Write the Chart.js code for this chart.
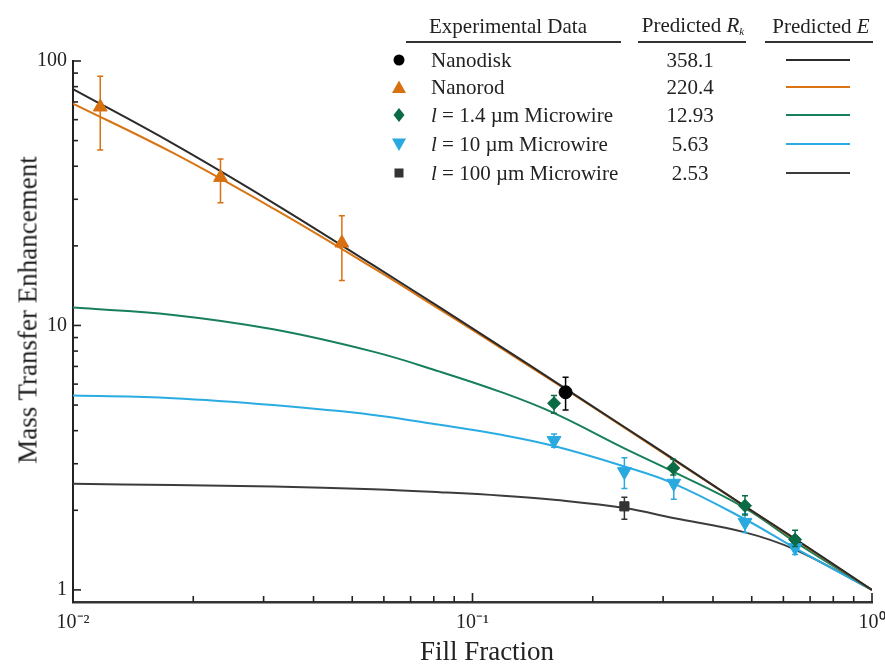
<!DOCTYPE html>
<html>
<head>
<meta charset="utf-8">
<script src="https://cdn.jsdelivr.net/npm/chart.js@4.4.1/dist/chart.umd.min.js"></script>
<style>
  html, body { margin: 0; padding: 0; background: #fff; }
  #wrap { position: relative; width: 885px; height: 664px; font-family: "Liberation Serif", "Times New Roman", serif; color: #222; }
  #chart { position: absolute; left: 0; top: 0; }
  .txt { position: absolute; white-space: nowrap; line-height: 1; transform: translate(-50%, -50%); }
  .left { transform: translate(0, -50%); }
  .rule { position: absolute; height: 1.5px; background: #333; }
  .sample { position: absolute; height: 2px; width: 64px; left: 786px; }
  .mark { position: absolute; width: 16px; height: 16px; left: 391px; }
  sub { font-size: 11px; vertical-align: -3px; }
</style>
</head>
<body>
<div id="wrap">
  <canvas id="chart" width="885" height="664"></canvas>
</div>
<script>
// fill fraction at which the predicted curves were read
const lineFill = [0.01, 0.0178, 0.0317, 0.0564, 0.0828, 0.119, 0.16, 0.24, 0.318, 0.481, 0.642, 1];
const nanodiskLine = [78.3, 48.7, 29.1, 16.9, 11.7, 8.23, 6.16, 4.13, 3.13, 2.07, 1.56, 1];
const nanorodLine = [69.0, 44.9, 27.7, 16.5, 11.5, 8.13, 6.11, 4.11, 3.11, 2.07, 1.55, 1];
const wire14Line = [11.68, 10.96, 9.67, 7.96, 6.69, 5.57, 4.66, 3.43, 2.80, 2.04, 1.52, 1];
const wire10Line = [5.43, 5.31, 5.00, 4.59, 4.21, 3.85, 3.50, 2.93, 2.53, 1.85, 1.44, 1];
const wire100Line = [2.52, 2.49, 2.46, 2.40, 2.34, 2.27, 2.19, 2.04, 1.87, 1.65, 1.42, 1];

// experimental data (value, upper and lower end of error bar)
const nanodiskX = [0.171];
const nanodiskY = [5.59];
const nanodiskHi = [6.37];
const nanodiskLo = [4.79];

const nanorodX = [0.0117, 0.0234, 0.0471];
const nanorodY = [67, 36.3, 20.5];
const nanorodHi = [87.5, 42.6, 26.0];
const nanorodLo = [46.1, 29.1, 14.8];

const wire14X = [0.160, 0.318, 0.481, 0.642];
const wire14Y = [5.08, 2.89, 2.08, 1.55];
const wire14Hi = [5.43, 3.12, 2.27, 1.68];
const wire14Lo = [4.66, 2.72, 1.92, 1.46];

const wire10X = [0.160, 0.240, 0.319, 0.481, 0.642];
const wire10Y = [3.67, 2.80, 2.53, 1.80, 1.445];
const wire10Hi = [3.89, 3.16, 2.86, 1.94, 1.55];
const wire10Lo = [3.46, 2.42, 2.20, 1.65, 1.36];

const wire100X = [0.240];
const wire100Y = [2.07];
const wire100Hi = [2.24];
const wire100Lo = [1.85];

const seriesNames = ['Nanodisk', 'Nanorod', '<i>l</i> = 1.4 µm Microwire', '<i>l</i> = 10 µm Microwire', '<i>l</i> = 100 µm Microwire'];
const predictedRk = ['358.1', '220.4', '12.93', '5.63', '2.53'];

const xTicks = [0.01, 0.1, 1];
const xTickLabels = ['10⁻²', '10⁻¹', '10⁰'];
const yTicks = [1, 10, 100];
const yTickLabels = ['1', '10', '100'];

const lineColors = ['#2b2b2b', '#d97414', '#17805a', '#2aace2', '#3c3c3c'];
const markColors = ['#000000', '#d87010', '#0b6b45', '#29a9e0', '#333333'];

function pts(xs, ys) {
  return xs.map((x, i) => ({ x: x, y: ys[i] }));
}

function curve(ys, color) {
  return {
    data: pts(lineFill, ys),
    borderColor: color,
    borderWidth: 2,
    pointRadius: 0,
    tension: 0.4,
    fill: false,
    order: 2
  };
}

function marks(xs, ys, hi, lo, color, style, radius, rotation) {
  return {
    data: pts(xs, ys),
    showLine: false,
    pointStyle: style,
    pointRadius: radius,
    pointRotation: rotation || 0,
    pointBackgroundColor: color,
    pointBorderColor: color,
    pointBorderWidth: 1,
    errHi: hi,
    errLo: lo,
    errColor: color,
    order: 1
  };
}

// error bars go under the markers of their own dataset
const errorBars = {
  id: 'errorBars',
  beforeDatasetDraw(chart, args) {
    const ds = chart.data.datasets[args.index];
    if (!ds.errHi) return;
    const xs = chart.scales.x, ys = chart.scales.y, ctx = chart.ctx;
    ctx.save();
    ctx.strokeStyle = ds.errColor;
    ctx.lineWidth = 1.5;
    ds.data.forEach((p, i) => {
      const px = xs.getPixelForValue(p.x);
      const top = ys.getPixelForValue(ds.errHi[i]);
      const bot = ys.getPixelForValue(ds.errLo[i]);
      ctx.beginPath();
      ctx.moveTo(px, top); ctx.lineTo(px, bot);
      ctx.moveTo(px - 3, top); ctx.lineTo(px + 3, top);
      ctx.moveTo(px - 3, bot); ctx.lineTo(px + 3, bot);
      ctx.stroke();
    });
    ctx.restore();
  }
};

// inward log ticks on both axes
const logTicks = {
  id: 'logTicks',
  afterDraw(chart) {
    const { ctx, chartArea, scales } = chart;
    ctx.save();
    ctx.strokeStyle = '#222';
    ctx.lineWidth = 1.6;
    for (let e = -2; e <= 0; e++) {
      for (let m = 1; m <= 9; m++) {
        const v = m * Math.pow(10, e);
        if (v > scales.x.max * 1.0001) continue;
        const px = scales.x.getPixelForValue(v);
        const len = m === 1 ? 9 : 6;
        ctx.beginPath();
        ctx.moveTo(px, chartArea.bottom);
        ctx.lineTo(px, chartArea.bottom - len);
        ctx.stroke();
      }
    }
    for (let e = 0; e <= 2; e++) {
      for (let m = 1; m <= 9; m++) {
        const v = m * Math.pow(10, e);
        if (v > scales.y.max * 1.0001) continue;
        const py = scales.y.getPixelForValue(v);
        const len = m === 1 ? 8 : 5;
        ctx.beginPath();
        ctx.moveTo(chartArea.left, py);
        ctx.lineTo(chartArea.left + len, py);
        ctx.stroke();
      }
    }
    ctx.restore();
  }
};

const tickFont = { family: 'Liberation Serif', size: 20 };

new Chart(document.getElementById('chart'), {
  type: 'line',
  data: {
    datasets: [
      curve(nanodiskLine, lineColors[0]),
      curve(nanorodLine, lineColors[1]),
      curve(wire14Line, lineColors[2]),
      curve(wire10Line, lineColors[3]),
      curve(wire100Line, lineColors[4]),
      marks(nanorodX, nanorodY, nanorodHi, nanorodLo, markColors[1], 'triangle', 8),
      marks(wire14X, wire14Y, wire14Hi, wire14Lo, markColors[2], 'rectRot', 6.5),
      marks(wire10X, wire10Y, wire10Hi, wire10Lo, markColors[3], 'triangle', 8, 180),
      marks(wire100X, wire100Y, wire100Hi, wire100Lo, markColors[4], 'rect', 6.5),
      marks(nanodiskX, nanodiskY, nanodiskHi, nanodiskLo, markColors[0], 'circle', 6.5)
    ]
  },
  options: {
    responsive: false,
    animation: false,
    devicePixelRatio: 1,
    layout: { padding: { left: 0, top: 61, right: 13, bottom: 0 } },
    plugins: { legend: { display: false }, tooltip: { enabled: false } },
    scales: {
      x: {
        type: 'logarithmic',
        min: 0.01,
        max: 1,
        grid: { display: false, drawTicks: false },
        border: { display: true, color: '#333', width: 2.5 },
        ticks: {
          padding: 9,
          color: '#222',
          font: tickFont,
          maxRotation: 0,
          autoSkip: false,
          callback: (v, i) => xTickLabels[i]
        },
        afterBuildTicks: (scale) => { scale.ticks = xTicks.map(v => ({ value: v })); },
        afterFit: (scale) => { scale.height = 62; scale.paddingLeft = 0; scale.paddingRight = 0; }
      },
      y: {
        type: 'logarithmic',
        min: 0.9,
        max: 100,
        grid: { display: false, drawTicks: false },
        border: { display: true, color: '#222', width: 2 },
        ticks: {
          padding: 6,
          color: '#222',
          font: tickFont,
          autoSkip: false,
          callback: (v, i) => yTickLabels[i]
        },
        afterBuildTicks: (scale) => { scale.ticks = yTicks.map(v => ({ value: v })); },
        afterFit: (scale) => { scale.width = 73; scale.paddingTop = 0; scale.paddingBottom = 0; }
      }
    }
  },
  plugins: [errorBars, logTicks]
});

// axis titles and the legend table
const wrap = document.getElementById('wrap');
function put(html, x, y, size, cls, extra) {
  const d = document.createElement('div');
  d.className = 'txt' + (cls ? ' ' + cls : '');
  d.style.left = x + 'px';
  d.style.top = y + 'px';
  d.style.fontSize = size + 'px';
  if (extra) d.style.cssText += extra;
  d.innerHTML = html;
  wrap.appendChild(d);
  return d;
}
function rule(x1, x2, y) {
  const d = document.createElement('div');
  d.className = 'rule';
  d.style.left = x1 + 'px';
  d.style.width = (x2 - x1) + 'px';
  d.style.top = y + 'px';
  wrap.appendChild(d);
}

put('Fill Fraction', 487, 651, 27);
put('Mass Transfer Enhancement', 28, 310, 27, null, 'transform: translate(-50%, -50%) rotate(-90deg);');

put('Experimental Data', 508, 26, 21);
put('Predicted <i>R</i><sub><i>k</i></sub>', 693, 26, 21);
put('Predicted <i>E</i>', 821, 26, 21);
rule(406, 621, 41);
rule(638, 746, 41);
rule(765, 873, 41);

const shapes = [
  '<circle cx="8" cy="8" r="5.5"/>',
  '<polygon points="8,1.5 15,14 1,14"/>',
  '<polygon points="8,1 13.5,8 8,15 2.5,8"/>',
  '<polygon points="1,2.5 15,2.5 8,15"/>',
  '<rect x="3.5" y="3.5" width="9" height="9"/>'
];
const rowY = [60, 87, 115, 144, 173];
seriesNames.forEach((name, i) => {
  const y = rowY[i];
  const m = document.createElement('div');
  m.className = 'mark';
  m.style.top = (y - 8) + 'px';
  m.innerHTML = '<svg width="16" height="16" viewBox="0 0 16 16" fill="' + markColors[i] + '">' + shapes[i] + '</svg>';
  wrap.appendChild(m);
  put(name, 431, y, 21, 'left');
  put(predictedRk[i], 690, y, 21);
  const s = document.createElement('div');
  s.className = 'sample';
  s.style.top = (y - 1) + 'px';
  s.style.background = lineColors[i];
  wrap.appendChild(s);
});
</script>
</body>
</html>
